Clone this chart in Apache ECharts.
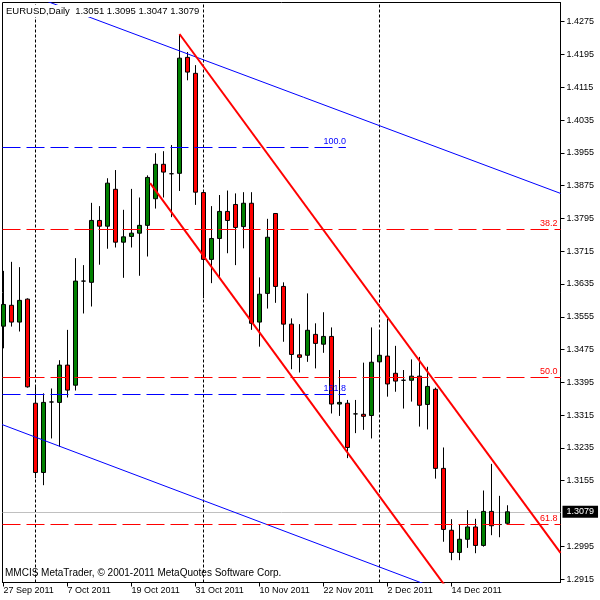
<!DOCTYPE html>
<html><head><meta charset="utf-8">
<script src="https://cdn.jsdelivr.net/npm/echarts@6/dist/echarts.min.js"></script>
<style>html,body{margin:0;padding:0;background:#fff}#c{width:600px;height:600px}</style>
</head><body><div id="c"></div>
<script>
// ---- data ----
const dates = ['27 Sep 2011','28 Sep 2011','29 Sep 2011','30 Sep 2011','3 Oct 2011','4 Oct 2011','5 Oct 2011','6 Oct 2011','7 Oct 2011','10 Oct 2011','11 Oct 2011','12 Oct 2011','13 Oct 2011','14 Oct 2011','17 Oct 2011','18 Oct 2011','19 Oct 2011','20 Oct 2011','21 Oct 2011','24 Oct 2011','25 Oct 2011','26 Oct 2011','27 Oct 2011','28 Oct 2011','31 Oct 2011','1 Nov 2011','2 Nov 2011','3 Nov 2011','4 Nov 2011','7 Nov 2011','8 Nov 2011','9 Nov 2011','10 Nov 2011','11 Nov 2011','14 Nov 2011','15 Nov 2011','16 Nov 2011','17 Nov 2011','18 Nov 2011','21 Nov 2011','22 Nov 2011','23 Nov 2011','24 Nov 2011','25 Nov 2011','28 Nov 2011','29 Nov 2011','30 Nov 2011','1 Dec 2011','2 Dec 2011','5 Dec 2011','6 Dec 2011','7 Dec 2011','8 Dec 2011','9 Dec 2011','12 Dec 2011','13 Dec 2011','14 Dec 2011','15 Dec 2011','16 Dec 2011','19 Dec 2011','20 Dec 2011','21 Dec 2011','22 Dec 2011','23 Dec 2011'];
const open  = [1.3532,1.3583,1.3542,1.3598,1.3344,1.3175,1.3347,1.3346,1.3437,1.3388,1.3642,1.3639,1.3790,1.3776,1.3866,1.3737,1.3751,1.3759,1.3778,1.3843,1.3927,1.3904,1.3905,1.4188,1.4149,1.3858,1.3695,1.3746,1.3812,1.3829,1.3775,1.3832,1.3542,1.3612,1.3807,1.3629,1.3537,1.3462,1.3461,1.3512,1.3488,1.3507,1.3342,1.3344,1.3318,1.3317,1.3314,1.3445,1.3459,1.3417,1.3400,1.3400,1.3410,1.3341,1.3378,1.3185,1.3034,1.2980,1.3012,1.3042,1.2997,1.3080,1.3048,1.3051];
const high  = [1.3667,1.3689,1.3676,1.3600,1.3386,1.3368,1.3380,1.3449,1.3523,1.3698,1.3681,1.3833,1.3825,1.3893,1.3913,1.3816,1.3867,1.3846,1.3900,1.3954,1.3959,1.3974,1.4243,1.4201,1.4169,1.3860,1.3825,1.3852,1.3863,1.3856,1.3859,1.3859,1.3651,1.3794,1.3808,1.3639,1.3551,1.3537,1.3612,1.3539,1.3566,1.3529,1.3425,1.3352,1.3352,1.3443,1.3529,1.3520,1.3550,1.3484,1.3425,1.3451,1.3457,1.3433,1.3382,1.3236,1.3061,1.3047,1.3083,1.3062,1.3131,1.3196,1.3118,1.3095];
const low   = [1.3478,1.3531,1.3519,1.3382,1.3161,1.3144,1.3258,1.3238,1.3358,1.3375,1.3563,1.3580,1.3682,1.3721,1.3724,1.3650,1.3724,1.3655,1.3702,1.3819,1.3846,1.3798,1.3862,1.4132,1.3828,1.3600,1.3637,1.3651,1.3710,1.3681,1.3722,1.3523,1.3482,1.3575,1.3589,1.3494,1.3427,1.3419,1.3445,1.3429,1.3467,1.3319,1.3313,1.3210,1.3271,1.3279,1.3258,1.3323,1.3360,1.3372,1.3331,1.3348,1.3287,1.3280,1.3160,1.3006,1.2961,1.2961,1.2991,1.2978,1.2994,1.3022,1.3017,1.3047];
const close = [1.3585,1.3542,1.3595,1.3384,1.3175,1.3346,1.3347,1.3437,1.3376,1.3642,1.3642,1.3790,1.3776,1.3881,1.3737,1.3750,1.3759,1.3778,1.3895,1.3927,1.3908,1.3904,1.4186,1.4152,1.3859,1.3695,1.3746,1.3812,1.3790,1.3773,1.3832,1.3539,1.3610,1.3749,1.3629,1.3537,1.3463,1.3456,1.3522,1.3490,1.3507,1.3342,1.3346,1.3236,1.3318,1.3312,1.3444,1.3461,1.3391,1.3398,1.3400,1.3410,1.3339,1.3385,1.3185,1.3036,1.2980,1.3012,1.3042,1.2997,1.3080,1.3045,1.3048,1.3079];

const xTickIndex = [0, 8, 16, 24, 32, 40, 48, 56];
const yTickValues = [1.2915,1.2995,1.3155,1.3235,1.3315,1.3395,1.3475,1.3555,1.3635,1.3715,1.3795,1.3875,1.3955,1.4035,1.4115,1.4195,1.4275];
const monthSeparators = [4, 25, 47];
const bidPrice = 1.3079;

const redFibLabels = ['38.2', '50.0', '61.8'];
const redFibPrices = [1.3768, 1.3407, 1.3049];
const blueFibLabels = ['100.0', '161.8'];
const blueFibPrices = [1.3969, 1.3366];
const blueFibRange = [-0.125, 42.8];

const blueChannelUpper = [[5, 1.4328], [69.625, 1.3856]];
const blueChannelLower = [[-1, 1.3298], [56, 1.2878]];
const redChannelUpper  = [[22, 1.4245], [69.625, 1.2979]];
const redChannelLower  = [[18.33, 1.3881], [56, 1.2877]];

const titleText = 'EURUSD,Daily  1.3051 1.3095 1.3047 1.3079';
const copyrightText = 'MMCIS MetaTrader, \u00A9 2001-2011 MetaQuotes Software Corp.';

// ---- chart ----
const FONT = '"Liberation Sans", Arial, sans-serif';
const candles = dates.map((d, i) => [i, open[i], close[i], low[i], high[i]]);

const chart = echarts.init(document.getElementById('c'), null, {renderer: 'canvas'});

function trend(data, color, width) {
  return {type: 'line', data: data, showSymbol: false, symbol: 'none', clip: true, silent: true, z: 4,
    lineStyle: {color: color, width: width}, animation: false};
}

const fibAbove = [];
redFibPrices.forEach((p, k) => fibAbove.push({yAxis: p,
  lineStyle: {color: '#ff0000', type: [18, 6], width: 1},
  label: {show: true, formatter: redFibLabels[k], position: 'insideEndTop', distance: [3, 1], color: '#ff0000', fontSize: 9, fontFamily: FONT}}));
blueFibPrices.forEach((p, k) => fibAbove.push([
  {coord: [blueFibRange[0], p],
   lineStyle: {color: '#0000ff', type: [18, 6], width: 1},
   label: {show: true, formatter: blueFibLabels[k], position: 'insideEndTop', distance: [0, 1], color: '#0000ff', fontSize: 9, fontFamily: FONT}},
  {coord: [blueFibRange[1], p]}]));

const below = monthSeparators.map(x => ({xAxis: x, lineStyle: {color: '#000', type: [3, 2], width: 1}, label: {show: false}}));
below.push({yAxis: bidPrice, lineStyle: {color: '#c0c0c0', type: 'solid', width: 1},
  label: {show: true, position: 'end', distance: 2, formatter: bidPrice.toFixed(4), color: '#fff', backgroundColor: '#000',
          padding: [1, 4, 0, 4], lineHeight: 11, fontSize: 9, fontFamily: FONT}});

chart.setOption({
  animation: false,
  backgroundColor: '#fff',
  textStyle: {fontFamily: FONT},
  title: {text: titleText, left: 4, top: 5, padding: [0, 2], backgroundColor: '#fff',
    textStyle: {fontSize: 9.5, lineHeight: 12, fontWeight: 'normal', color: '#000', fontFamily: FONT}},
  grid: {left: 2.5, right: 39.5, top: 2.5, bottom: 17.5, show: true, borderColor: '#000', borderWidth: 1, backgroundColor: 'transparent'},
  xAxis: {type: 'value', min: -0.125, max: 69.625, splitLine: {show: false},
    axisLine: {onZero: false, lineStyle: {color: '#000'}},
    axisTick: {length: 4, customValues: xTickIndex, lineStyle: {color: '#000'}},
    axisLabel: {customValues: xTickIndex, formatter: v => dates[Math.round(v)], align: 'left', color: '#000', fontSize: 9, margin: 4, fontFamily: FONT}},
  yAxis: {type: 'value', position: 'right', min: 1.290653, max: 1.432185, scale: true, splitLine: {show: false},
    axisLine: {show: true, onZero: false, lineStyle: {color: '#000'}},
    axisTick: {show: true, length: 4, customValues: yTickValues, lineStyle: {color: '#000'}},
    axisLabel: {customValues: yTickValues, formatter: v => v.toFixed(4), color: '#000', fontSize: 9, margin: 6, fontFamily: FONT}},
  graphic: [{type: 'text', left: 5, top: 568, z: 10, style: {text: copyrightText, font: '10px ' + FONT, fill: '#000'}}],
  series: [
    {type: 'line', data: [], silent: true, z: 1,
     markLine: {z: 1, silent: true, symbol: 'none', precision: 6, animation: false, data: below}},
    {type: 'candlestick', data: candles, encode: {x: 0, y: [1, 2, 3, 4]}, barWidth: 4, z: 2, silent: true,
     itemStyle: {color: '#008000', color0: '#ff0000', borderColor: '#000', borderColor0: '#000', borderColorDoji: '#000', borderWidth: 1}},
    trend(blueChannelUpper, '#0000ff', 1),
    trend(blueChannelLower, '#0000ff', 1),
    trend(redChannelUpper, '#ff0000', 2),
    trend(redChannelLower, '#ff0000', 2),
    {type: 'line', data: [], silent: true, z: 5,
     markLine: {z: 5, silent: true, symbol: 'none', precision: 6, animation: false, data: fibAbove}}
  ]
});
</script></body></html>
